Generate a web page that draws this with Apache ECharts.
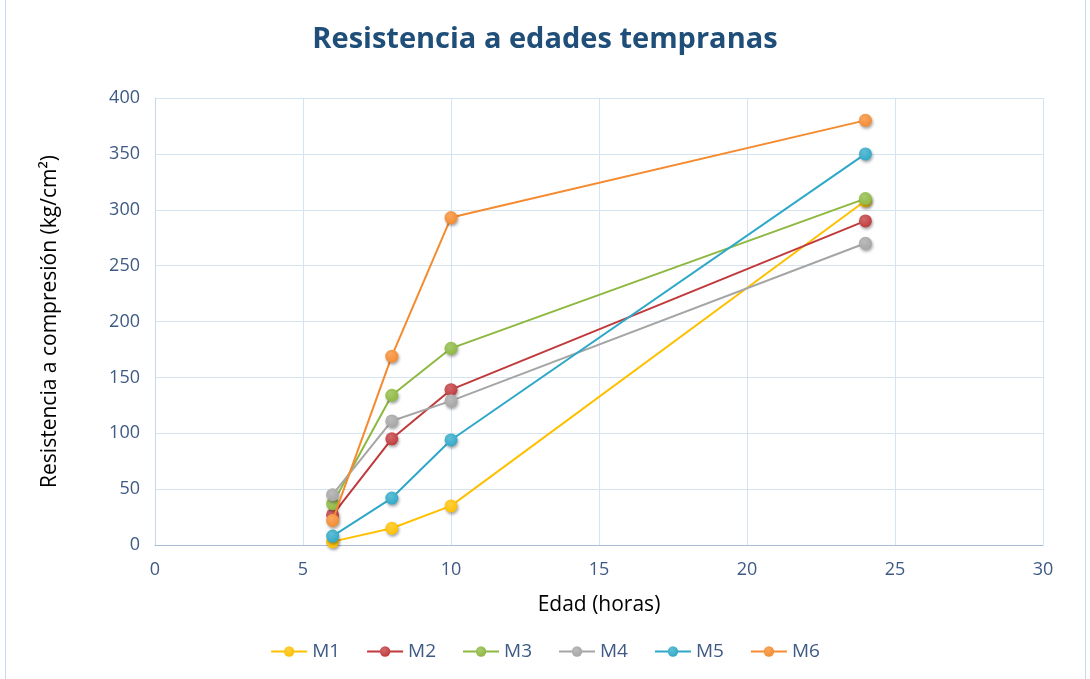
<!DOCTYPE html>
<html>
<head>
<meta charset="utf-8">
<script src="https://cdn.jsdelivr.net/npm/echarts@6/dist/echarts.min.js"></script>
<style>
  html, body { margin: 0; padding: 0; background: #fff; }
  #chart { width: 1090px; height: 679px; }
</style>
</head>
<body>
<div id="chart"></div>
<script>
// Ages (hours) at which specimens were tested
const edades = [6, 8, 10, 24];

// Compressive strength (kg/cm²) per mix
const M1 = [3, 15, 35, 308];
const M2 = [27, 95, 139, 290];
const M3 = [37, 134, 176, 310];
const M4 = [45, 111, 129, 270];
const M5 = [8, 42, 94, 350];
const M6 = [22, 169, 293, 380];

const seriesNames = ['M1', 'M2', 'M3', 'M4', 'M5', 'M6'];
const seriesData = [M1, M2, M3, M4, M5, M6];
const colors = ['#FFC000', '#C0393B', '#8DB83F', '#A5A5A5', '#2EA8C8', '#F58A2E'];

const font = '"Open Sans", "Noto Sans", sans-serif';

function markerFill(c) {
  return new echarts.graphic.RadialGradient(0.4, 0.35, 0.7, [
    { offset: 0, color: echarts.color.lift(c, 0.25) },
    { offset: 1, color: c }
  ]);
}

const series = seriesNames.map((name, i) => ({
  name,
  type: 'line',
  data: edades.map((x, j) => [x, seriesData[i][j]]),
  symbol: 'circle',
  symbolSize: 13,
  lineStyle: { width: 2, color: colors[i] },
  itemStyle: {
    color: markerFill(colors[i]),
    shadowColor: 'rgba(0,0,0,0.35)',
    shadowBlur: 3,
    shadowOffsetX: 1,
    shadowOffsetY: 2
  },
  emphasis: { disabled: true },
  z: 2 + i
}));

const chart = echarts.init(document.getElementById('chart'), null, { renderer: 'canvas' });
chart.setOption({
  animation: false,
  color: colors,
  title: {
    text: 'Resistencia a edades tempranas',
    left: 'center',
    top: 20,
    textStyle: { fontFamily: font, fontWeight: 'bold', fontSize: 29, color: '#1F4E79' }
  },
  graphic: [{
    type: 'rect',
    shape: { x: 5.5, y: -2, width: 1080, height: 690 },
    style: { fill: 'none', stroke: '#C5D9EF', lineWidth: 1 },
    silent: true
  }],
  grid: { left: 155, right: 47, top: 98, bottom: 134 },
  xAxis: {
    type: 'value',
    min: 0, max: 30, interval: 5,
    name: 'Edad (horas)',
    nameLocation: 'middle',
    nameGap: 50,
    nameTextStyle: { fontFamily: font, fontSize: 21, color: '#000' },
    axisLine: { show: true, lineStyle: { color: '#A8BCD4' } },
    axisTick: { show: false },
    axisLabel: { fontFamily: font, fontSize: 18, color: '#3E5A85', margin: 16 },
    splitLine: { show: true, lineStyle: { color: '#D6E3F0' } }
  },
  yAxis: {
    type: 'value',
    min: 0, max: 400, interval: 50,
    name: 'Resistencia a compresión (kg/cm²)',
    nameLocation: 'middle',
    nameGap: 94,
    nameTextStyle: { fontFamily: font, fontSize: 21, color: '#000' },
    axisLine: { show: true, lineStyle: { color: '#C8D7E8' } },
    axisTick: { show: false },
    axisLabel: { fontFamily: font, fontSize: 18, color: '#3E5A85', margin: 15 },
    splitLine: { show: true, lineStyle: { color: '#D6E3F0' } }
  },
  legend: {
    data: seriesNames,
    bottom: 13,
    left: 'center',
    itemWidth: 36,
    itemHeight: 13,
    itemGap: 26,
    textStyle: { fontFamily: font, fontSize: 19, color: '#3E5A85' }
  },
  series
});
</script>
</body>
</html>
